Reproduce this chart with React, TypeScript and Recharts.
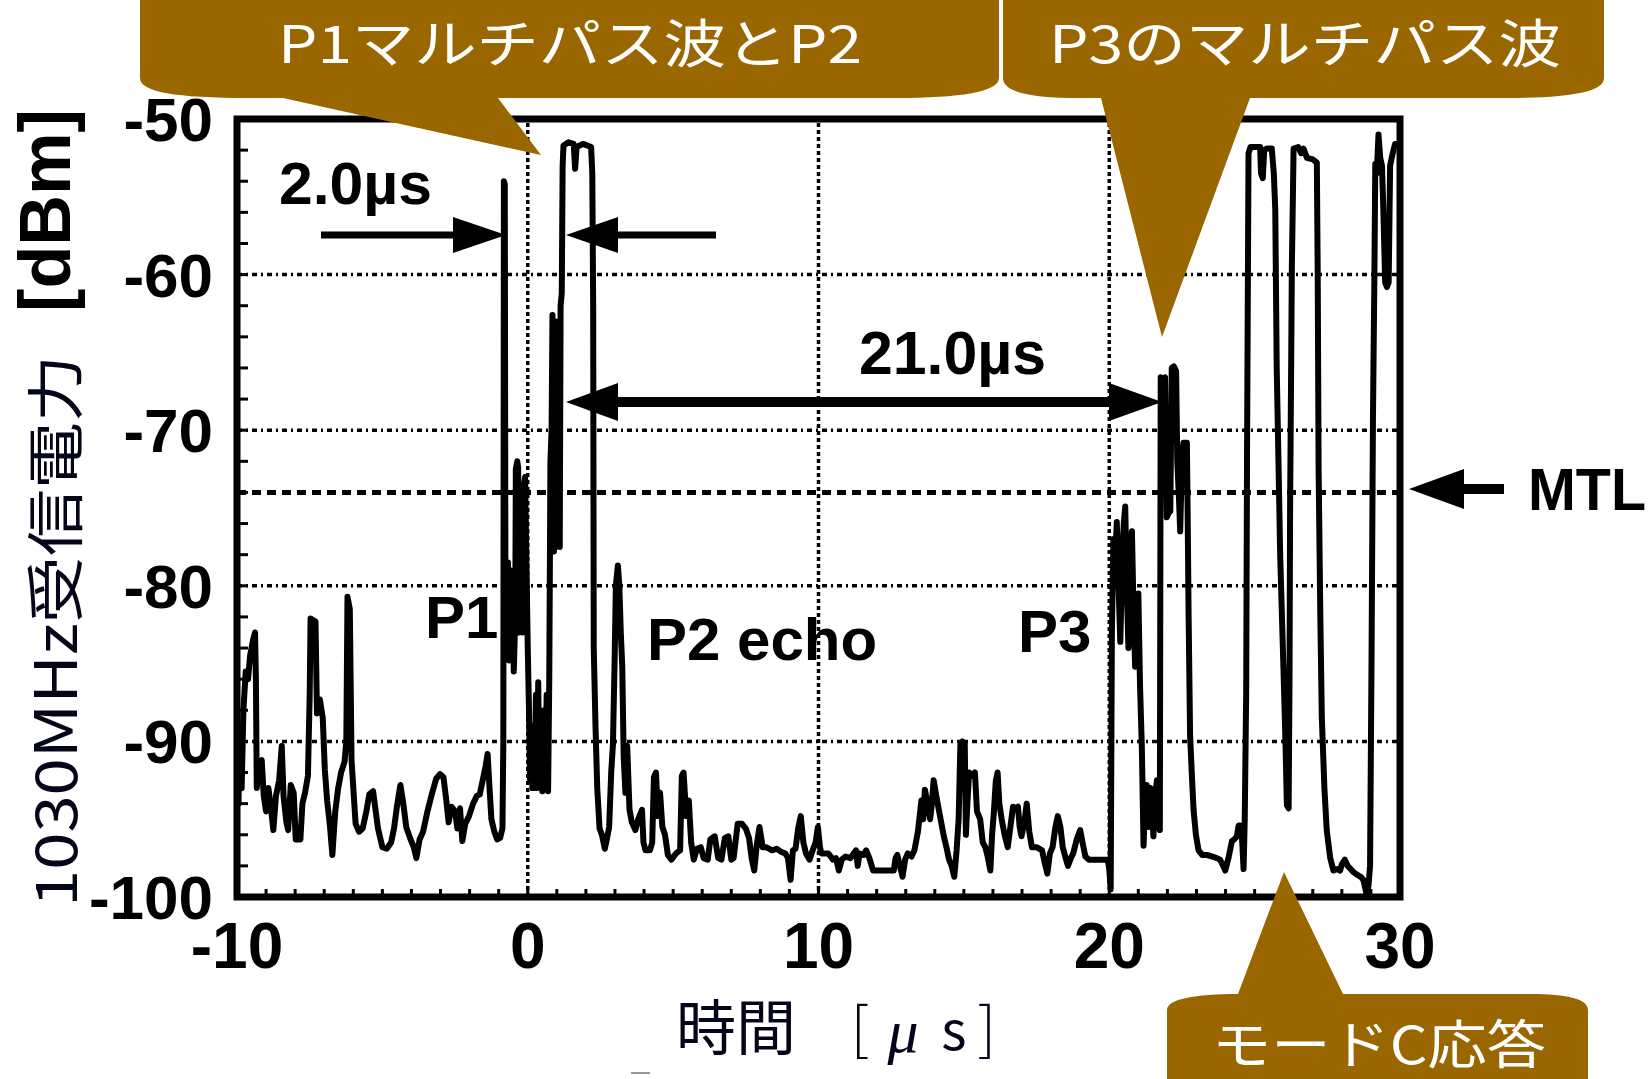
import React from 'react';
import { LineChart, Line, XAxis, YAxis, ReferenceLine, ReferenceArea } from 'recharts';

// ---- data: [time µs, received power dBm] ----
const noiseBeforeP1: [number, number][] = [
  [-10.0, -91], [-9.95, -94], [-9.9, -89.5], [-9.84, -93], [-9.78, -88], [-9.7, -85.5], [-9.62, -86],
  [-9.55, -84.5], [-9.45, -83.5], [-9.38, -83], [-9.35, -86], [-9.32, -93], [-9.25, -91.5], [-9.15, -91.2],
  [-9.08, -93.5], [-9.0, -94.5], [-8.92, -93], [-8.82, -94.5], [-8.75, -95.7], [-8.66, -93.5], [-8.55, -92.5],
  [-8.46, -90.3], [-8.4, -93.5], [-8.3, -95.2], [-8.24, -95.7], [-8.15, -92.8], [-8.05, -93.3], [-7.98, -96.3],
  [-7.82, -96.3], [-7.75, -94], [-7.66, -93.3], [-7.56, -92.2], [-7.5, -87], [-7.47, -82.1], [-7.3, -82.3],
  [-7.25, -88.2], [-7.15, -87.3], [-7.05, -88.5], [-6.98, -91.8], [-6.9, -93.8], [-6.8, -95.5], [-6.72, -97.3],
  [-6.62, -94.5], [-6.52, -93], [-6.42, -92], [-6.3, -91.3], [-6.24, -90], [-6.2, -80.7], [-6.12, -81.5],
  [-6.06, -91.2], [-6.0, -93], [-5.92, -95.3], [-5.8, -95.8], [-5.68, -95.6], [-5.55, -94.5], [-5.45, -93.4],
  [-5.32, -93.2], [-5.25, -94.2], [-5.15, -95.6], [-5.0, -96.8], [-4.85, -96.9], [-4.7, -96.5], [-4.6, -95.6],
  [-4.5, -94.2], [-4.38, -92.8], [-4.28, -94], [-4.18, -95.5], [-4.05, -96.2], [-3.92, -96.8], [-3.83, -97.5],
  [-3.72, -96.3], [-3.6, -95.8], [-3.45, -94.5], [-3.3, -93.4], [-3.15, -92.4], [-3.02, -92.1], [-2.9, -92.3],
  [-2.8, -93.8], [-2.72, -95.2], [-2.62, -94.2], [-2.5, -94.5], [-2.42, -95.6], [-2.33, -94.3], [-2.25, -96.4],
  [-2.15, -95.3], [-2.02, -94.8], [-1.88, -94], [-1.75, -93.5], [-1.65, -93.4], [-1.55, -92.5], [-1.45, -91.6],
  [-1.38, -90.8], [-1.33, -92.5], [-1.25, -95], [-1.15, -95.8], [-1.05, -96.3], [-0.95, -96.2], [-0.87, -95.6],
];

const p1AndP2: [number, number][] = [
  [-0.84, -90], [-0.82, -54], [-0.79, -54.2], [-0.77, -78], [-0.72, -84.5], [-0.68, -78.5], [-0.64, -84.8],
  [-0.6, -79], [-0.56, -84], [-0.52, -81], [-0.48, -85.5], [-0.43, -82], [-0.41, -72.5], [-0.36, -72],
  [-0.33, -72.4], [-0.3, -83], [-0.26, -80], [-0.22, -77.5], [-0.18, -83], [-0.13, -73.5], [-0.09, -73],
  [-0.05, -78], [0.0, -84], [0.04, -87.7], [0.08, -92.5], [0.12, -89], [0.16, -93], [0.2, -90.5], [0.24, -93],
  [0.28, -87], [0.32, -93], [0.36, -86.2], [0.4, -92.8], [0.45, -89], [0.5, -93.2], [0.55, -88], [0.6, -93],
  [0.65, -87], [0.7, -93.2], [0.74, -86], [0.78, -72], [0.82, -70], [0.85, -62.6], [0.9, -77.8], [0.94, -63],
  [0.98, -77.5], [1.02, -63.2], [1.06, -76.5], [1.1, -77.5], [1.13, -62], [1.17, -61.2], [1.2, -53],
  [1.23, -51.7], [1.4, -51.5], [1.58, -51.6], [1.63, -53.2], [1.68, -51.8], [1.9, -51.6], [2.18, -51.8],
  [2.22, -53.5], [2.25, -62], [2.27, -84], [2.33, -89], [2.39, -93], [2.47, -95.6], [2.55, -96], [2.65, -96.9],
  [2.72, -96.3], [2.8, -95.5], [2.87, -92], [2.93, -90.2], [2.99, -84.6], [3.03, -80], [3.1, -78.7],
  [3.15, -80], [3.2, -83], [3.25, -85.2], [3.3, -91], [3.36, -93.3], [3.42, -90.3], [3.5, -94.4], [3.58, -95.2],
  [3.7, -95.7], [3.8, -95], [3.93, -94.4], [3.98, -96.5], [4.05, -97], [4.2, -97], [4.28, -96.5], [4.34, -92.3],
  [4.41, -92], [4.48, -94.8], [4.55, -93.3], [4.63, -95.5], [4.72, -96], [4.82, -97.3], [4.94, -97.6],
];

const noiseBetween: [number, number][] = [
  [5.1, -97.2], [5.24, -97.0], [5.3, -92.2], [5.36, -92.0], [5.45, -94.8], [5.54, -93.8], [5.62, -96.5],
  [5.71, -97.6], [5.82, -96.9], [5.95, -96.8], [6.05, -97.5], [6.19, -97.6], [6.28, -96.3], [6.43, -96.1],
  [6.55, -97.5], [6.66, -97.6], [6.78, -96.2], [6.9, -96.1], [7.0, -97.6], [7.08, -97.5], [7.22, -95.3],
  [7.37, -95.3], [7.5, -95.6], [7.61, -96.2], [7.7, -97.5], [7.79, -98.3], [7.88, -96.6], [7.97, -95.5],
  [8.08, -96.8], [8.2, -96.8], [8.4, -97], [8.56, -96.9], [8.72, -97.1], [8.86, -97.2], [8.95, -97.5],
  [9.04, -98.9], [9.12, -97], [9.21, -96.9], [9.3, -95.6], [9.39, -94.8], [9.48, -96.5], [9.57, -97.2],
  [9.69, -97.6], [9.8, -97], [9.9, -96.5], [9.98, -95.5], [10.05, -96.8], [10.1, -97.2], [10.34, -97.2],
  [10.5, -97.6], [10.6, -97.5], [10.7, -98.3], [10.8, -97.6], [10.93, -97.4], [11.1, -97.5], [11.29, -97.0],
  [11.35, -98], [11.41, -97.2], [11.55, -97.3], [11.64, -97.0], [11.75, -97.5], [11.88, -98.3], [12.1, -98.3],
  [12.24, -98.3], [12.4, -98.3], [12.59, -98.3], [12.65, -97.5], [12.71, -97.3], [12.8, -98], [12.89, -98.7],
  [12.98, -97.6], [13.07, -97.2], [13.2, -97.4], [13.3, -97], [13.42, -95.8], [13.54, -93.8], [13.6, -95],
  [13.66, -93.1], [13.75, -94], [13.84, -95], [13.9, -94], [13.96, -92.5], [14.05, -93.5], [14.2, -95.0],
  [14.31, -96.1], [14.4, -96.8], [14.49, -97.6], [14.58, -98], [14.67, -98.7], [14.75, -97], [14.82, -95],
  [14.88, -90.2], [14.95, -90], [15.03, -90.1], [15.07, -96], [15.12, -94], [15.18, -92.0], [15.3, -92.2],
  [15.38, -92], [15.45, -94.5], [15.56, -95], [15.65, -96.5], [15.74, -96.8], [15.83, -97.5], [15.91, -98.3],
  [15.97, -96], [16.03, -94.6], [16.1, -92.5], [16.16, -92.0], [16.22, -94], [16.3, -95], [16.4, -96],
  [16.51, -96.8], [16.6, -95.5], [16.69, -94.2], [16.8, -94.3], [16.86, -94.2], [16.92, -95.5], [16.98, -96.1],
  [17.08, -95.2], [17.16, -94], [17.25, -95.8], [17.34, -96.8], [17.5, -96.8], [17.69, -97.0], [17.78, -97.8],
  [17.87, -98.5], [17.96, -97.2], [18.05, -96.8], [18.15, -95.5], [18.23, -94.8], [18.32, -95.5], [18.4, -96.8],
  [18.5, -97.5], [18.58, -98], [18.68, -97.5], [18.76, -97.2], [18.88, -96.3], [19.0, -95.7], [19.08, -96.5],
  [19.18, -97.4], [19.3, -97.6], [19.47, -97.6], [19.7, -97.6], [19.95, -97.6], [20.0, -98.2], [20.05, -99.5],
];

const p3Region: [number, number][] = [
  [20.09, -83.2], [20.14, -77], [20.2, -78.5], [20.26, -75.9], [20.32, -80], [20.38, -83.6], [20.45, -78],
  [20.5, -76], [20.55, -74.9], [20.6, -80], [20.66, -84], [20.72, -78], [20.78, -76.5], [20.84, -82],
  [20.89, -85.2], [20.95, -83], [21.0, -80.5], [21.06, -86.5], [21.12, -90.3], [21.18, -96.7], [21.24, -93.5],
  [21.29, -92.8], [21.35, -95.5], [21.41, -93], [21.47, -94.5], [21.52, -96.1], [21.58, -93.5], [21.64, -92.5],
  [21.7, -95], [21.74, -95.7], [21.77, -66.6], [21.84, -66.7], [21.92, -66.6], [21.95, -72], [21.98, -75.6],
  [22.05, -75.3], [22.1, -75.2], [22.15, -66.0], [22.22, -65.9], [22.3, -66.2], [22.34, -72], [22.4, -74.5],
  [22.44, -76.5], [22.5, -72], [22.55, -70.8], [22.67, -70.8], [22.7, -76], [22.73, -82], [22.78, -89.6],
  [22.85, -92.5], [22.9, -94.4], [22.98, -96], [23.07, -97], [23.2, -97.3], [23.36, -97.3], [23.55, -97.4],
  [23.7, -97.5], [23.81, -97.6], [23.92, -98], [23.99, -98.3], [24.1, -97.5], [24.22, -96.4], [24.3, -96.3],
  [24.39, -96.1], [24.45, -95.4], [24.5, -95.4], [24.56, -96], [24.62, -98.2], [24.66, -95],
];

const modeCReply: [number, number][] = [
  [24.71, -86.8], [24.74, -71.1], [24.79, -52.2], [24.86, -51.8], [25.0, -51.8], [25.19, -51.8], [25.22, -53.5],
  [25.28, -53.8], [25.33, -52], [25.42, -51.9], [25.59, -51.9], [25.66, -53.5], [25.71, -55.8], [25.76, -66.0],
  [25.82, -72], [25.88, -78.1], [25.99, -85.2], [26.06, -90], [26.11, -94.1], [26.17, -94.3], [26.2, -86],
  [26.22, -75], [26.26, -65], [26.28, -59.6], [26.34, -51.9], [26.5, -51.8], [26.6, -52.2], [26.68, -51.9],
  [26.8, -52.5], [27.0, -52.6], [27.14, -52.8], [27.17, -60], [27.2, -72.4], [27.26, -82], [27.31, -88.4],
  [27.4, -93], [27.48, -95.7], [27.6, -97.5], [27.71, -98.3], [27.85, -98.2], [27.94, -98.3], [28.0, -97.9],
  [28.1, -97.6], [28.2, -98], [28.3, -98.2], [28.4, -98.4], [28.55, -98.6], [28.65, -98.7], [28.74, -98.9],
  [28.8, -99.4], [28.86, -99.9], [28.92, -99.2], [28.97, -98], [29.02, -85], [29.07, -69.2], [29.12, -60],
  [29.15, -52.9], [29.2, -53.5], [29.26, -51.0], [29.32, -52.5], [29.38, -53], [29.43, -56], [29.49, -60.5],
  [29.55, -60.8], [29.61, -60.5], [29.64, -56], [29.66, -53], [29.75, -52.2], [29.83, -51.6], [29.92, -51.6],
  [30.0, -51.6],
];

// ---- axes ----
const xMajorTicks = [-10, 0, 10, 20, 30];
const xMinorTicks = [
  -10, -9, -8, -7, -6, -5, -4, -3, -2, -1, 0, 1, 2, 3, 4, 5, 6, 7, 8, 9, 10, 11, 12, 13, 14, 15, 16, 17, 18,
  19, 20, 21, 22, 23, 24, 25, 26, 27, 28, 29, 30,
];
const yMajorTicks = [-100, -90, -80, -70, -60, -50];
const yMinorTicks = [
  -100, -98, -96, -94, -92, -90, -88, -86, -84, -82, -80, -78, -76, -74, -72, -70, -68, -66, -64, -62, -60,
  -58, -56, -54, -52, -50,
];
const yGridValues = [-60, -70, -80, -90];
const xGridValues = [0, 10, 20];
const mtlLevel = -74;

const data = [...noiseBeforeP1, ...p1AndP2, ...noiseBetween, ...p3Region, ...modeCReply].map(([t, v]) => ({ t, v }));

const LATIN = '"Liberation Sans", Arial, Helvetica, sans-serif';
const CJK = '"Noto Sans CJK JP", "Noto Sans", sans-serif';
const BROWN = '#996600';

const XTick = (props: any) => {
  const { x, y, payload } = props;
  const v = payload.value;
  return (
    <g>
      <line x1={x} x2={x} y1={y} y2={y - 8} stroke="#000" strokeWidth={3} />
      {xMajorTicks.includes(v) && (
        <text x={x} y={y + 71} textAnchor="middle" fontFamily={LATIN} fontWeight="bold" fontSize={64} fill="#000">
          {v}
        </text>
      )}
    </g>
  );
};

const YTick = (props: any) => {
  const { x, y, payload } = props;
  const v = payload.value;
  return (
    <g>
      <line x1={x} x2={x + 11} y1={y} y2={y} stroke="#000" strokeWidth={3} />
      {yMajorTicks.includes(v) && (
        <text x={x - 24} y={y + 22} textAnchor="end" fontFamily={LATIN} fontWeight="bold" fontSize={62} fill="#000">
          {v}
        </text>
      )}
    </g>
  );
};

const Overlay = () => (
  <svg
    width={1650}
    height={1079}
    style={{ position: 'absolute', left: 0, top: 0, pointerEvents: 'none' }}
  >
    {/* y-axis title */}
    <text
      transform="translate(77,907) rotate(-90)"
      fontFamily={CJK}
      fontSize={58}
      fill="#05051a"
      textLength={552}
      lengthAdjust="spacingAndGlyphs"
    >
      1030MHz受信電力
    </text>
    <text
      transform="translate(70,312) rotate(-90)"
      fontFamily={LATIN}
      fontWeight="bold"
      fontSize={72}
      fill="#000"
      textLength={203}
      lengthAdjust="spacingAndGlyphs"
    >
      [dBm]
    </text>

    {/* x-axis title */}
    <text x={676} y={1050} fontFamily={CJK} fontSize={60} fill="#05051a">
      時間
    </text>
    <text x={860} y={1049} textAnchor="middle" fontFamily={CJK} fontWeight={300} fontSize={58} fill="#05051a">
      [
    </text>
    <text x={903} y={1052} textAnchor="middle" fontFamily={'"Liberation Serif", serif'} fontStyle="italic" fontSize={62} fill="#05051a">
      μ
    </text>
    <text x={954} y={1050} textAnchor="middle" fontFamily={CJK} fontSize={54} fill="#05051a">
      s
    </text>
    <text x={987} y={1049} textAnchor="middle" fontFamily={CJK} fontWeight={300} fontSize={58} fill="#05051a">
      ]
    </text>
    <line x1={631} x2={650} y1={1073} y2={1073} stroke="#999" strokeWidth={2} />

    {/* pulse labels */}
    <text x={425} y={638} fontFamily={LATIN} fontWeight="bold" fontSize={60}>P1</text>
    <text x={647} y={660} fontFamily={LATIN} fontWeight="bold" fontSize={60}>P2 echo</text>
    <text x={1018} y={652} fontFamily={LATIN} fontWeight="bold" fontSize={60}>P3</text>

    {/* 2.0 µs annotation */}
    <text x={279} y={204} fontFamily={LATIN} fontWeight="bold" fontSize={60} textLength={153} lengthAdjust="spacingAndGlyphs">
      2.0µs
    </text>
    <line x1={321} x2={456} y1={235} y2={235} stroke="#000" strokeWidth={7} />
    <polygon points="453,217 506,235 453,253" fill="#000" />
    <polygon points="566,235 618,217 618,253" fill="#000" />
    <line x1={615} x2={716} y1={235} y2={235} stroke="#000" strokeWidth={7} />

    {/* 21.0 µs annotation */}
    <text x={859} y={374} fontFamily={LATIN} fontWeight="bold" fontSize={61} textLength={187} lengthAdjust="spacingAndGlyphs">
      21.0µs
    </text>
    <line x1={614} x2={1112} y1={402} y2={402} stroke="#000" strokeWidth={10} />
    <polygon points="566,402 618,383 618,421" fill="#000" />
    <polygon points="1162,402 1109,383 1109,421" fill="#000" />

    {/* MTL */}
    <polygon points="1409,489 1464,469 1464,509" fill="#000" />
    <line x1={1460} x2={1504} y1={489} y2={489} stroke="#000" strokeWidth={10} />
    <text x={1528} y={510} fontFamily={LATIN} fontWeight="bold" fontSize={60} textLength={118} lengthAdjust="spacingAndGlyphs">
      MTL
    </text>

    {/* callouts */}
    <path
      d="M140,-10 L999,-10 L999,78 C999,92 960,98 896,98 L498,98 L541,155 L283,98 L250,98 C175,98 140,92 140,78 Z"
      fill={BROWN}
    />
    <path
      d="M1003,-10 L1604,-10 L1604,78 C1604,92 1570,98 1505,98 L1250,98 L1162,337 L1101,98 L1080,98 C1030,98 1003,92 1003,78 Z"
      fill={BROWN}
    />
    <path
      d="M1167,1090 L1167,1010 C1167,999 1195,994 1238,994 L1284,872 L1343,994 L1530,994 C1568,994 1588,999 1588,1010 L1588,1090 Z"
      fill={BROWN}
    />
    <text x={278} y={63} fontFamily={CJK} fontSize={52} fill="#fff" textLength={584} lengthAdjust="spacingAndGlyphs">
      P1マルチパス波とP2
    </text>
    <text x={1049} y={63} fontFamily={CJK} fontSize={52} fill="#fff" textLength={512} lengthAdjust="spacingAndGlyphs">
      P3のマルチパス波
    </text>
    <text x={1212} y={1064} fontFamily={CJK} fontSize={52} fill="#fff" textLength={334} lengthAdjust="spacingAndGlyphs">
      モードC応答
    </text>
  </svg>
);

export default function App() {
  return (
    <div
      style={{
        position: 'absolute',
        left: 0,
        top: 0,
        width: 1650,
        height: 1079,
        overflow: 'hidden',
        background: '#fff',
      }}
    >
      <LineChart width={1650} height={1079} data={data} margin={{ top: 119, right: 250, bottom: 152, left: 177 }}>
        <XAxis
          dataKey="t"
          type="number"
          domain={[-10, 30]}
          ticks={xMinorTicks}
          interval={0}
          tick={(p: any) => <XTick {...p} />}
          tickLine={false}
          axisLine={false}
          tickSize={0}
          tickMargin={0}
          height={30}
          allowDataOverflow
        />
        <YAxis
          type="number"
          domain={[-100, -50]}
          ticks={yMinorTicks}
          interval={0}
          tick={(p: any) => <YTick {...p} />}
          tickLine={false}
          axisLine={false}
          tickSize={0}
          tickMargin={0}
          width={60}
          allowDataOverflow
        />
        {yGridValues.map((y) => (
          <ReferenceLine key={`gy${y}`} y={y} stroke="#000" strokeWidth={3.5} strokeDasharray="5 4 2 4" />
        ))}
        {xGridValues.map((x) => (
          <ReferenceLine key={`gx${x}`} x={x} stroke="#000" strokeWidth={3.5} strokeDasharray="4 3" />
        ))}
        <ReferenceLine y={mtlLevel} stroke="#000" strokeWidth={5} strokeDasharray="9 6" />
        <Line
          type="linear"
          dataKey="v"
          stroke="#000"
          strokeWidth={6}
          dot={false}
          strokeLinejoin="round"
          isAnimationActive={false}
        />
        <ReferenceArea x1={-10} x2={30} y1={-100} y2={-50} fill="none" stroke="#000" strokeWidth={7} />
      </LineChart>
      <Overlay />
    </div>
  );
}
